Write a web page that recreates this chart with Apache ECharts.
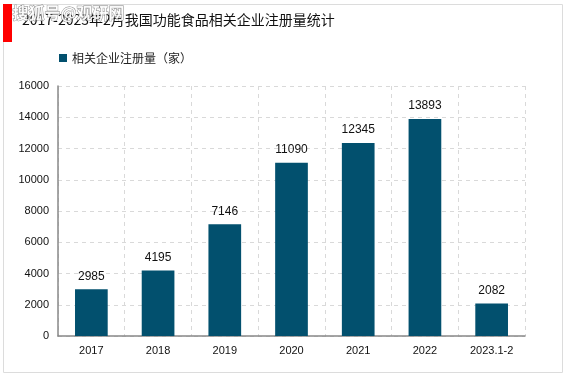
<!DOCTYPE html>
<html><head><meta charset="utf-8">
<script src="https://cdn.jsdelivr.net/npm/echarts@6/dist/echarts.min.js"></script>
<style>html,body{margin:0;padding:0;background:#fff}#c{width:567px;height:378px}</style>
</head><body><div id="c"></div>
<script>
var categories = ['2017','2018','2019','2020','2021','2022','2023.1-2'];
var values = [2985, 4195, 7146, 11090, 12345, 13893, 2082];
var yTicks = [0, 2000, 4000, 6000, 8000, 10000, 12000, 14000, 16000];
var seriesName = '相关企业注册量（家）';
var titleText = '2017-2023年2月我国功能食品相关企业注册量统计';

var chart = echarts.init(document.getElementById('c'));
var font = '"Liberation Sans", Arial, "Noto Sans CJK SC", sans-serif';
chart.setOption({
  animation: false,
  textStyle: {fontFamily: font},
  graphic: [
    {type:'rect', shape:{x:3.5,y:4.5,width:559,height:368}, style:{fill:'none', stroke:'#dcdcdc', lineWidth:1}, z:-1},
    {type:'rect', shape:{x:3,y:4,width:9,height:38}, style:{fill:'#ff0000'}},
    {type:'text', left:22, top:13, style:{text:titleText, font:'14px "Noto Sans CJK SC", sans-serif', fill:'#111'}},
    {type:'text', left:12, top:5, style:{text:'搜狐号@观研网', font:'bold 16px "Noto Sans CJK SC", sans-serif', fill:'rgba(255,255,255,0.9)', stroke:'rgba(90,90,90,0.8)', lineWidth:0.8}}
  ],
  legend: {
    show: true, left: 54, top: 47, itemWidth: 8, itemHeight: 8, itemGap: 4,
    icon: 'rect',
    textStyle: {fontSize: 12, color:'#222', fontFamily:'"Noto Sans CJK SC", sans-serif'},
    data: [seriesName]
  },
  grid: {left: 58, right: 42, top: 86, bottom: 42},
  xAxis: {
    type: 'category', data: categories,
    axisLine: {lineStyle: {color: '#888', width: 1.5}},
    axisTick: {show: false},
    axisLabel: {color: '#111', fontSize: 11, margin: 9},
    splitLine: {show: true, lineStyle: {color: '#d9d9d9', type: [4,4]}}
  },
  yAxis: {
    type: 'value', min: yTicks[0], max: yTicks[yTicks.length-1], interval: 2000,
    axisLine: {show: true, lineStyle: {color: '#888', width: 1.5}},
    axisTick: {show: false},
    axisLabel: {color: '#111', fontSize: 11, margin: 9, formatter: function(v){ return String(v); }},
    splitLine: {show: true, lineStyle: {color: '#d9d9d9', type: [4,4]}}
  },
  series: [{
    name: seriesName, type: 'bar', data: values, barWidth: '49%',
    itemStyle: {color: '#02506e'},
    label: {show: true, position: 'top', color: '#111', fontSize: 12, distance: 7}
  }]
});
</script></body></html>
